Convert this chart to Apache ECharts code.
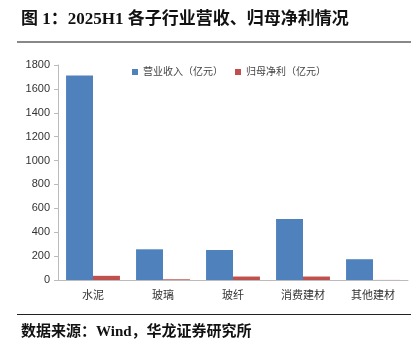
<!DOCTYPE html>
<html>
<head>
<meta charset="utf-8">
<script src="https://cdn.jsdelivr.net/npm/echarts@6/dist/echarts.min.js"></script>
<style>
html, body { margin: 0; padding: 0; background: #fff; }
#chart { width: 411px; height: 355px; }
</style>
</head>
<body>
<div id="chart"></div>
<script>
var categories = ['水泥', '玻璃', '玻纤', '消费建材', '其他建材'];
var revenue = [1712, 257, 251, 510, 174];
var netProfit = [35, 6, 29, 29, 0.5];
var yTicks = { min: 0, max: 1800, interval: 200 };

var chart = echarts.init(document.getElementById('chart'));
var serif = '"Liberation Serif", "Noto Sans CJK SC", serif';

var option = {
    animation: false,
    title: [{
        text: '图 1：2025H1 各子行业营收、归母净利情况',
        left: 16,
        top: 6,
        textStyle: { fontFamily: serif, fontSize: 17, fontWeight: 'bold', color: '#111' }
    }, {
        text: '数据来源：Wind，华龙证券研究所',
        left: 16,
        top: 320,
        textStyle: { fontFamily: serif, fontSize: 15, fontWeight: 'bold', color: '#111' }
    }],
    graphic: [
        { type: 'rect', shape: { x: 17, y: 41, width: 394, height: 2 }, style: { fill: '#888' } },
        { type: 'rect', shape: { x: 17, y: 314, width: 394, height: 1 }, style: { fill: '#222' } }
    ],
    legend: {
        left: 127,
        top: 62,
        itemWidth: 6,
        itemHeight: 6,
        itemGap: 12,
        icon: 'rect',
        textStyle: { fontFamily: serif, fontSize: 10, color: '#444' },
        data: ['营业收入（亿元）', '归母净利（亿元）']
    },
    grid: { left: 58, right: 3, top: 65, bottom: 75, containLabel: false },
    xAxis: {
        type: 'category',
        data: categories,
        axisLine: { lineStyle: { color: '#bbb' } },
        axisTick: { show: false },
        axisLabel: { fontFamily: serif, fontSize: 11, color: '#333', margin: 11 }
    },
    yAxis: {
        type: 'value',
        min: yTicks.min,
        max: yTicks.max,
        interval: yTicks.interval,
        axisLine: { show: true, lineStyle: { color: '#bbb' } },
        axisTick: { show: true, length: 4, lineStyle: { color: '#bbb' } },
        splitLine: { show: false },
        axisLabel: {
            fontFamily: '"Liberation Sans", Arial',
            fontSize: 11,
            color: '#333',
            margin: 8,
            formatter: function(v) { return String(v); }
        }
    },
    series: [{
        name: '营业收入（亿元）',
        type: 'bar',
        data: revenue,
        barGap: '0%',
        barCategoryGap: '23%',
        itemStyle: { color: '#4F81BD' }
    }, {
        name: '归母净利（亿元）',
        type: 'bar',
        data: netProfit,
        itemStyle: { color: '#C0504D' }
    }]
};

chart.setOption(option);
</script>
</body>
</html>
